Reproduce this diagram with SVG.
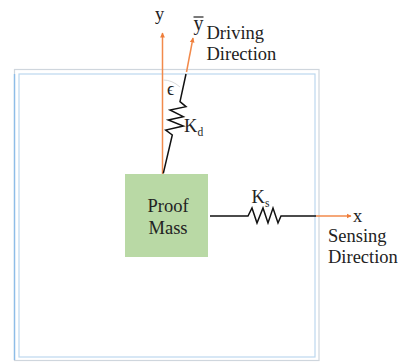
<svg xmlns="http://www.w3.org/2000/svg" width="402" height="362" viewBox="0 0 402 362">
<style>
text{font-family:"Liberation Serif","Times New Roman",serif;fill:#222}
.l{font-size:18.5px}
.s{font-size:11.5px}
.spring{fill:none;stroke:#111;stroke-width:1.5;stroke-linejoin:miter}
.axis{fill:none;stroke:#f28a4b;stroke-width:1.5}
</style>
<defs>
<marker id="ah" markerWidth="6" markerHeight="6" refX="4.500" refY="3" orient="auto" markerUnits="userSpaceOnUse"><path d="M0 0.6L5 3L0 5.4Z" fill="#ee7d3a"/></marker>
</defs>
<rect width="402" height="362" fill="#fff"/>
<g id="frame">
<rect x="14.500" y="69.500" width="304.500" height="291" fill="none" stroke="#cfd6dd" stroke-width="1.200"/>
<path d="M14.500 360V74" fill="none" stroke="#8dbde8" stroke-width="1.400"/>
<rect x="19" y="74" width="296" height="283" fill="none" stroke="#bcd8ee" stroke-width="1.200"/>
</g>
<g id="proof-mass">
<rect x="125" y="174" width="83" height="83" fill="#b9d9a5"/>
<text class="l" x="168" y="212" text-anchor="middle">Proof</text>
<text class="l" x="168" y="234" text-anchor="middle">Mass</text>
</g>
<g id="connectors">
<path class="axis" d="M162.500 174V33" marker-end="url(#ah)"/>
<path class="axis" d="M186.500 72L193 38" marker-end="url(#ah)"/>
<path class="axis" d="M316 216H351" marker-end="url(#ah)"/>
<path d="M163.500 80Q172 80 180 87" fill="none" stroke="#cfcfcf" stroke-width=".8"/>
<path class="spring" d="M163.300 173.300L172.300 135L165.700 130L183.300 126L168.300 120L183.300 116.700L170 110L186 106.700L180 101.700L186 74"/>
<path class="spring" d="M210 216H248L252 208L257 223L263 208L268 223L273 208L278 223L281 216H316"/>
</g>
<g id="labels">
<text class="l" x="155" y="20">y</text>
<path d="M193.500 17H203.500" stroke="#222" stroke-width="1.200" fill="none"/>
<text x="193.500" y="30" style="font-size:20px">y</text>
<text class="l" x="206.500" y="39">Driving</text>
<text class="l" x="206.500" y="60">Direction</text>
<text x="167" y="95" style="font-size:18px">ϵ</text>
<text class="l" x="184" y="132">K<tspan class="s" dy="4">d</tspan></text>
<text class="l" x="251.500" y="203">K<tspan class="s" dy="4">s</tspan></text>
<text class="l" x="353" y="222">x</text>
<text class="l" x="328" y="241.500">Sensing</text>
<text class="l" x="328" y="263">Direction</text>
</g>
</svg>
